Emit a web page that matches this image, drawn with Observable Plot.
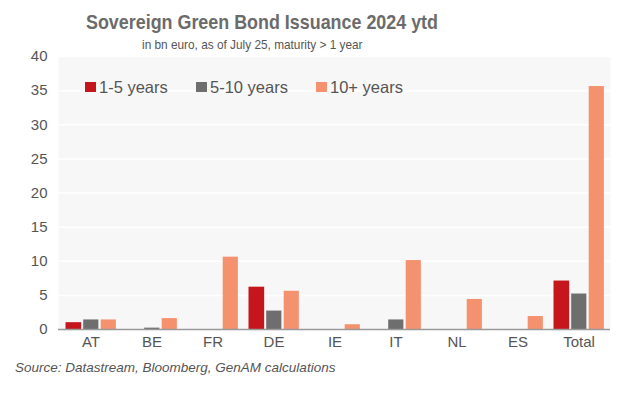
<!DOCTYPE html>
<html>
<head>
<meta charset="utf-8">
<script src="https://cdn.jsdelivr.net/npm/d3@7"></script>
<script src="https://cdn.jsdelivr.net/npm/@observablehq/plot@0.6"></script>
<style>
  html, body { margin: 0; padding: 0; background: #fff; }
  #wrap { position: relative; width: 643px; height: 397px; overflow: hidden; font-family: "Liberation Sans", Arial, sans-serif; }
  #title { position: absolute; left: 86px; top: 10px; font-size: 21px; font-weight: bold; color: #6b6b6b; white-space: nowrap; transform: scaleX(0.852); transform-origin: 0 0; }
  #subtitle { position: absolute; left: 142px; top: 37px; font-size: 13.5px; color: #555; white-space: nowrap; transform: scaleX(0.876); transform-origin: 0 0; }
  #source { position: absolute; left: 15px; top: 360px; font-size: 13.5px; font-style: italic; color: #555; white-space: nowrap; }
  #chart { position: absolute; left: 0; top: 0; }
</style>
</head>
<body>
<div id="wrap">
  <div id="chart"></div>
  <div id="title">Sovereign Green Bond Issuance 2024 ytd</div>
  <div id="subtitle">in bn euro, as of July 25, maturity &gt; 1 year</div>
  <div id="source">Source: Datastream, Bloomberg, GenAM calculations</div>
</div>
<script>
const categories = ["AT", "BE", "FR", "DE", "IE", "IT", "NL", "ES", "Total"];
const series = ["1-5 years", "5-10 years", "10+ years"];
const colors = ["#c4161c", "#6e6e6e", "#f4926f"];
const short = [1.0, 0, 0, 6.2, 0, 0, 0, 0, 7.1];
const mid = [1.4, 0.2, 0, 2.7, 0, 1.4, 0, 0, 5.2];
const long = [1.4, 1.6, 10.6, 5.6, 0.7, 10.1, 4.4, 1.9, 35.6];
const yTicks = [0, 5, 10, 15, 20, 25, 30, 35, 40];

const values = [short, mid, long];
const data = [];
series.forEach((s, i) => categories.forEach((c, j) => data.push({category: c, series: s, value: values[i][j]})));

const bw = 552 / 9;
const insets = [[5.5, bw - 21.5], [23.2, bw - 38.7], [40.7, bw - 56.2]];

const bars = series.map((s, i) => Plot.barY(data.filter(d => d.series === s && d.value > 0), {
  x: "category", y: "value", fill: colors[i],
  insetLeft: insets[i][0], insetRight: insets[i][1]
}));

const chart = Plot.plot({
  width: 643,
  height: 397,
  marginLeft: 58,
  marginRight: 33,
  marginTop: 56,
  marginBottom: 68,
  style: {fontFamily: "'Liberation Sans', Arial, sans-serif", background: "transparent"},
  x: {domain: categories, padding: 0, label: null},
  y: {domain: [0, 40], ticks: yTicks, label: null},
  marks: [
    Plot.frame({fill: "#f7f7f7", stroke: null}),
    Plot.gridY(yTicks.slice(1), {stroke: "#ffffff", strokeOpacity: 1, strokeWidth: 1.5}),
    Plot.axisY({ticks: yTicks, tickSize: 0, tickPadding: 11, fontSize: 15, fill: "#555", label: null}),
    Plot.axisX({tickSize: 0, tickPadding: 7, fontSize: 15, fill: "#555", label: null}),
    ...bars,
    Plot.ruleY([0], {stroke: "#999", strokeWidth: 1.5})
  ]
});
document.getElementById("chart").appendChild(chart);

// legend inside the plot area
const svg = d3.select(chart);
const legX = [85, 196, 316];
const g = svg.append("g").attr("text-anchor", "start");
series.forEach((s, i) => {
  g.append("rect").attr("x", legX[i]).attr("y", 82).attr("width", 11).attr("height", 10).attr("fill", colors[i]);
  g.append("text").attr("x", legX[i] + 14).attr("y", 92.5).attr("font-size", 16.5).attr("fill", "#555")
    .attr("text-anchor", "start")
    .attr("font-family", "'Liberation Sans', Arial, sans-serif").text(s);
});
</script>
</body>
</html>
